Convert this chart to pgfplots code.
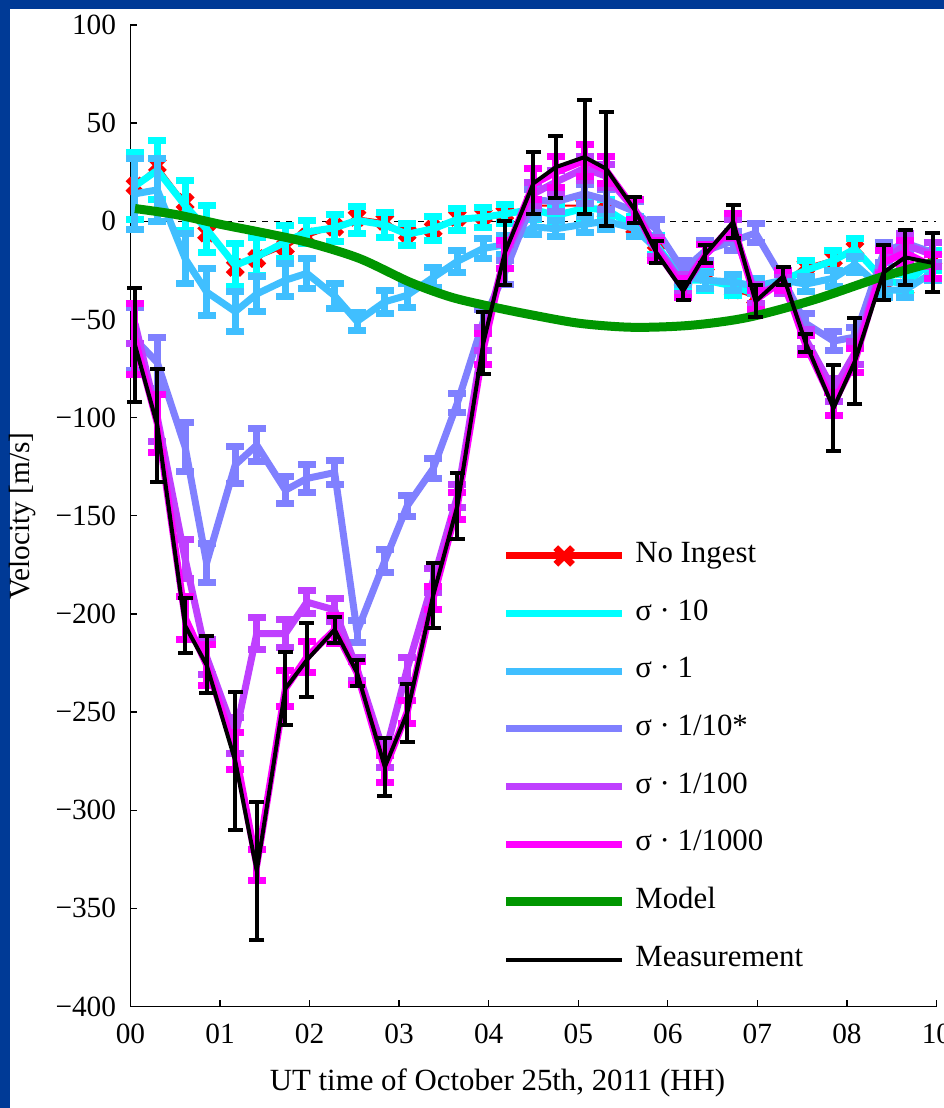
\documentclass[border=0pt]{standalone}
\usepackage{fontspec}
\setmainfont{Liberation Serif}
\usepackage{pgfplots}
\usepackage{pgfplotstable}
\pgfplotsset{compat=1.18}
\definecolor{frameblue}{RGB}{0,58,150}
\definecolor{cRD}{RGB}{255,0,0}
\definecolor{cCY}{RGB}{0,255,255}
\definecolor{cLB}{RGB}{64,191,255}
\definecolor{cPW}{RGB}{128,128,255}
\definecolor{cPU}{RGB}{191,64,255}
\definecolor{cMG}{RGB}{255,0,255}
\definecolor{cGR}{RGB}{0,150,0}

\pgfplotstableread{
x     meas   me    mag   mge  pur  pue  per   pee  lb    lbe  cy    cye  red
0.05  -63    29    -60   18   -52  10   -60   16   14    18   18    17   18
0.30  -104   29    -103  15   -100 12   -72   13   16    16   26    15   28.6
0.61  -206   14    -202  11   -172 10   -115  12.5 -19   12.8 8     12.7 9.7
0.85  -226   14.5  -226  10.5 -222 9    -174  10   -36   12   -4    12   -6
1.17  -275   35    -270  9.5  -262 9    -124  9.5  -46   10   -22.4 11   -23.5
1.41  -331   35    -328  8    -210 8    -114  8.5  -37   9    -18   9.6  -19
1.73  -238   18.6  -238  9    -210 7    -137  7    -30   8.5  -10.5 8.5  -13
1.97  -223.5 19    -222  8    -194 6    -131  7    -26.5 7.6  -5.4  6    -8
2.28  -208   6.6   -208  7    -198 6    -128  6    -38   6.4  -3.3  7    -3
2.53  -230   6.6   -230  6    -228 6    -209  5.5  -51   4.6  0.5   6.8  2
2.84  -278   14.8  -279  7    -272 6    -173  6    -41   6    -1.8  6.4  0
3.09  -250.5 14.8  -250  6    -228 6    -145  5.5  -37.7 6    -6.6  5.6  -6
3.38  -190.6 16.6  -192  6    -183 6    -126  5    -28.6 5    -3.8  6    -4
3.65  -145   16.6  -145  7    -140 6    -92.6 5    -20.4 5.5  1     5.5  2
3.94  -62    15.6  -65   8    -60  6    -51   6    -13.8 5    2     5    3
4.18  -16    16.3  -17   7    -18  6    -26   6    -12   5    3.8   5    4
4.50  19.4   15.8  19    8    14   6    11    5    -2.8  4    6     5    8
4.75  27.6   15.7  25    8    20   6    10    5    -3.8  4    3     5    8
5.07  32.7   29    31    8    27   6    14    5    -1.5  4    6.6   5    8
5.31  26.8   29    26    7    23   6    11    5    0     4    6     5    5
5.63  5.8    6.5   6     5    6    5    5     5    -3.6  4    -2.8  5    -3
5.87  -15.8  5.6   -15   5    -13  5    -4    5    -14   4    -12   5    -16
6.17  -35.5  4.5   -34   5    -32  5    -25   5    -28   4    -30   5    -30
6.42  -16.8  4.6   -17   5    -17  5    -15   5    -30   4    -30   5    -27
6.73  -0.3   8.4   -2    6    -4   5    -10   5    -31   4    -33   5    -35
6.98  -40.8  8.2   -40   5    -37  5    -6    5    -33   4    -37   5    -39
7.29  -28    4.6   -30   5    -32  5    -30   5    -30   4    -30   5    -30
7.54  -62    4.8   -63   5    -60  5    -52   5    -32   4    -25   5    -23
7.85  -95.2  22    -93   6    -86  6    -61   5    -29   4    -20   5    -19
8.09  -71.2  21.7  -71   6    -67  6    -59   5    -22   4    -14   5    -14
8.41  -26    13.9  -21   6    -20  6    -16   5    -35   4    -30   5    -30
8.65  -18.4  13.8  -16   6    -12  6    -11   5    -35   4    -32   5    -34
8.96  -21.2  15    -23   6    -17  6    -16   5    -26   4    -20   5    -19
}\data

\pgfplotstableread{
x     y
0.05  6.5
0.50  3.5
1.00  -1.5
1.50  -6
2.00  -11
2.56  -19
3.12  -31
3.57  -38.5
3.98  -43
4.46  -47.5
5.02  -52
5.61  -54
6.25  -53
6.89  -49
7.63  -40
8.37  -28.6
8.96  -21
}\model

\newcommand{\fs}{\fontsize{8.8}{10.4}\selectfont}
\newcommand{\fl}{\fontsize{9.25}{11}\selectfont}

\begin{document}
\begin{tikzpicture}
\fill[frameblue] (-39.15pt,-30.45pt) rectangle (244.05pt,301.95pt);
\fill[white] (-36.15pt,-31pt) rectangle (245pt,299.25pt);
\begin{axis}[
  at={(0pt,0pt)}, anchor=south west,
  scale only axis, width=241.8pt, height=294.45pt,
  clip=false, clip mode=individual,
  axis x line*=bottom, axis y line*=left,
  axis line style={-, black, line width=0.4pt},
  tick align=inside, major tick length=2.1pt,
  tick style={black, line width=0.4pt},
  xmin=0, xmax=9, ymin=-400, ymax=100,
  xtick={0,1,2,3,4,5,6,7,8,9},
  xticklabels={00,01,02,03,04,05,06,07,08,10},
  ytick={-400,-350,-300,-250,-200,-150,-100,-50,0,50,100},
  yticklabels={−400,−350,−300,−250,−200,−150,−100,−50,0,50,100},
  tick label style={font=\fs},
  yticklabel style={xshift=-0.8pt},
  xticklabel style={yshift=-1.6pt},
  xlabel={UT time of October 25th, 2011 (HH)},
  ylabel={Velocity [m/s]},
  xlabel style={font=\fl, at={(axis description cs:0.4553,-0.078)}, anchor=center},
  ylabel style={font=\fs, at={(axis description cs:-0.1346,0.5)}, anchor=center},
  legend image code/.code={\draw[#1] (0pt,0pt) -- (34.8pt,0pt);},
  legend cell align=left,
  legend style={draw=none, fill=none, font=\fl,
    at={(axis description cs:0.4597,0.4733)}, anchor=north west,
    inner sep=0pt, row sep=9.3pt,
    nodes={inner sep=0pt, text height=6pt, text depth=2pt},
    /tikz/every odd column/.append style={column sep=2.6pt}},
]
% zero line
\addplot[black, line width=0.4pt, dash pattern=on 1.8pt off 1.8pt, forget plot] coordinates {(0,0) (9,0)};
% No ingest
\addplot[cRD, line width=0.6pt, mark=x, mark size=3pt, mark options={line width=2pt, solid}, forget plot]
  table[x=x, y=red]{\data};
% sigma 10
\addplot[cCY, line width=2.1pt, line join=round, forget plot,
  error bars/.cd, y dir=both, y explicit,
  error bar style={line width=2.1pt, cCY},
  error mark options={cCY, line width=2.1pt, mark size=2.7pt, rotate=90}]
  table[x=x, y=cy, y error=cye]{\data};
% sigma 1
\addplot[cLB, line width=2.1pt, line join=round, forget plot,
  error bars/.cd, y dir=both, y explicit,
  error bar style={line width=2.1pt, cLB},
  error mark options={cLB, line width=2.1pt, mark size=2.7pt, rotate=90}]
  table[x=x, y=lb, y error=lbe]{\data};
% sigma 1/10
\addplot[cPW, line width=2.1pt, line join=round, forget plot,
  error bars/.cd, y dir=both, y explicit,
  error bar style={line width=2.1pt, cPW},
  error mark options={cPW, line width=2.1pt, mark size=2.7pt, rotate=90}]
  table[x=x, y=per, y error=pee]{\data};
% sigma 1/100
\addplot[cPU, line width=2.1pt, line join=round, forget plot,
  error bars/.cd, y dir=both, y explicit,
  error bar style={line width=2.1pt, cPU},
  error mark options={cPU, line width=2.1pt, mark size=2.7pt, rotate=90}]
  table[x=x, y=pur, y error=pue]{\data};
% sigma 1/1000
\addplot[cMG, line width=2.1pt, line join=round, forget plot,
  error bars/.cd, y dir=both, y explicit,
  error bar style={line width=2.1pt, cMG},
  error mark options={cMG, line width=2.1pt, mark size=2.7pt, rotate=90}]
  table[x=x, y=mag, y error=mge]{\data};
% model
\addplot[cGR, line width=2.7pt, smooth, forget plot] table[x=x, y=y]{\model};
% measurement
\addplot[black, line width=1.2pt, line join=round, forget plot,
  error bars/.cd, y dir=both, y explicit,
  error bar style={line width=1.2pt, black},
  error mark options={black, line width=1.2pt, mark size=2.25pt, rotate=90}]
  table[x=x, y=meas, y error=me]{\data};

\addlegendimage{cRD, line width=2.1pt, legend image code/.code={\draw[cRD, line width=2.1pt] (0pt,0pt) -- (34.8pt,0pt); \draw[cRD, line width=2pt] (14.9pt,-2.5pt) -- (19.9pt,2.5pt) (14.9pt,2.5pt) -- (19.9pt,-2.5pt);}}
\addlegendentry{No Ingest}
\addlegendimage{cCY, line width=2.1pt}
\addlegendentry{σ · 10}
\addlegendimage{cLB, line width=2.1pt}
\addlegendentry{σ · 1}
\addlegendimage{cPW, line width=2.1pt}
\addlegendentry{σ · 1/10*}
\addlegendimage{cPU, line width=2.1pt}
\addlegendentry{σ · 1/100}
\addlegendimage{cMG, line width=2.1pt}
\addlegendentry{σ · 1/1000}
\addlegendimage{cGR, line width=2.7pt}
\addlegendentry{Model}
\addlegendimage{black, line width=1.2pt}
\addlegendentry{Measurement}
\end{axis}
\pgfresetboundingbox
\useasboundingbox (-39.15pt,-30.45pt) rectangle (244.05pt,301.95pt);
\end{tikzpicture}
\end{document}
